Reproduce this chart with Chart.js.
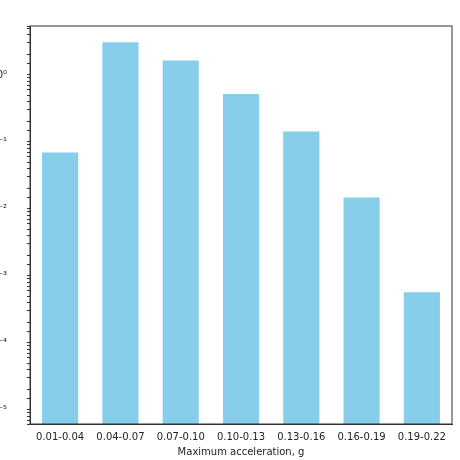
<!DOCTYPE html>
<html>
<head>
<script src="https://cdn.jsdelivr.net/npm/chart.js@4"></script>
<style>
body { margin: 0; overflow: hidden; background: #fff; }
#wrap { position: absolute; left: 0; top: 0; width: 460px; height: 460px; }
</style>
</head>
<body>
<div id="wrap"><canvas id="chart"></canvas></div>
<script>
const categories = ['0.01-0.04', '0.04-0.07', '0.07-0.10', '0.10-0.13', '0.13-0.16', '0.16-0.19', '0.19-0.22'];
const values = [0.0697, 3.06, 1.64, 0.518, 0.1436, 0.0148, 0.00057];
const supers = { '0': '⁰', '1': '¹', '2': '²', '3': '³', '4': '⁴', '5': '⁵', '-': '⁻' };

Chart.defaults.font.family = 'DejaVu Sans';
Chart.defaults.font.size = 10;
Chart.defaults.color = '#222';

new Chart(document.getElementById('chart'), {
    type: 'bar',
    data: {
        labels: categories,
        datasets: [{
            data: values,
            backgroundColor: '#87CEEB',
            barPercentage: 0.6,
            categoryPercentage: 1.0
        }]
    },
    options: {
        responsive: true,
        maintainAspectRatio: false,
        animation: false,
        layout: { padding: { top: 8, right: 8, bottom: 0 } },
        plugins: { legend: { display: false }, tooltip: { enabled: false } },
        scales: {
            x: {
                grid: { display: false, drawTicks: true, tickLength: 4 },
                border: { color: '#333' },
                title: { display: true, text: 'Maximum acceleration, g', padding: { top: 0, bottom: 2 } }
            },
            y: {
                type: 'logarithmic',
                min: Math.pow(10, -5.21),
                max: Math.pow(10, 0.73),
                afterFit: function(scale) { scale.width = 30; },
                grid: { drawOnChartArea: false, tickLength: 3, color: '#333' },
                border: { color: '#333' },
                ticks: {
                    autoSkip: false,
                    padding: 20,
                    callback: function(value) {
                        const e = Math.log10(value);
                        if (Math.abs(e - Math.round(e)) > 1e-6) return '';
                        return '10' + String(Math.round(e)).split('').map(c => supers[c]).join('');
                    }
                }
            }
        }
    },
    plugins: [{
        id: 'frame',
        afterDraw(chart) {
            const a = chart.chartArea, c = chart.ctx;
            c.save();
            c.strokeStyle = '#333';
            c.lineWidth = 1;
            c.strokeRect(a.left, a.top, a.right - a.left, a.bottom - a.top);
            c.restore();
        }
    }]
});
</script>
</body>
</html>
